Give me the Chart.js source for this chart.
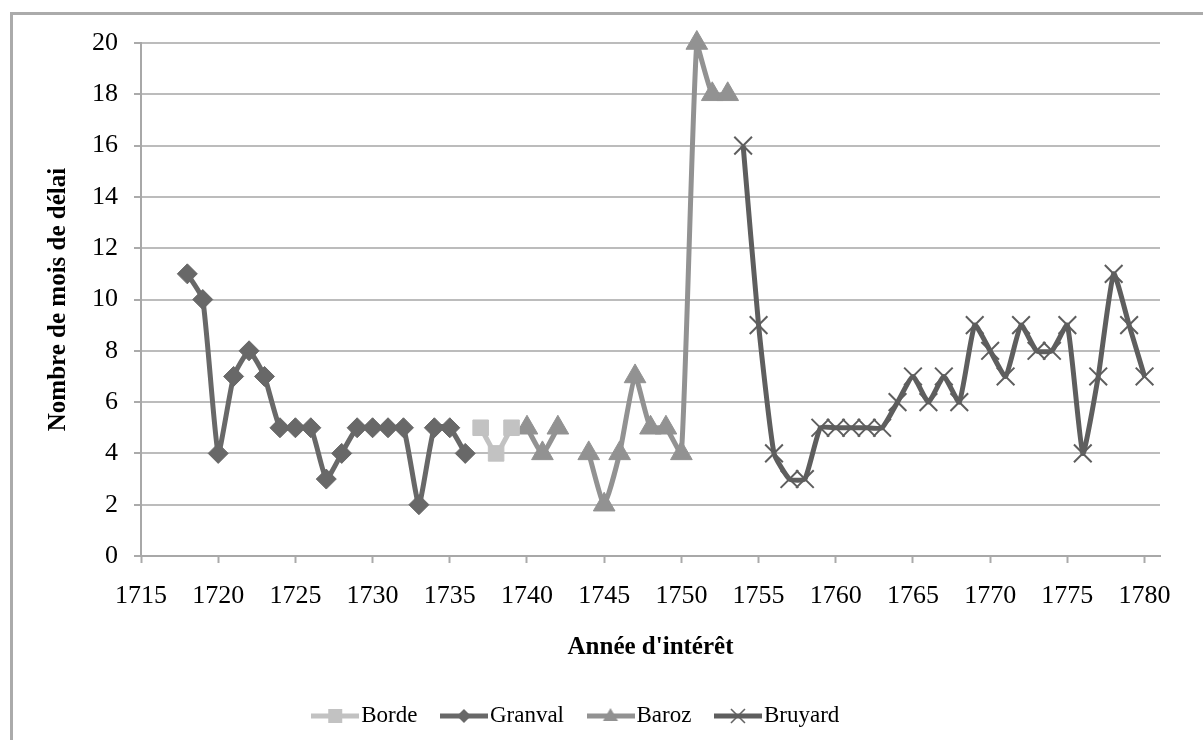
<!DOCTYPE html>
<html><head><meta charset="utf-8">
<script src="https://cdn.jsdelivr.net/npm/chart.js@4/dist/chart.umd.min.js"></script>
<style>html,body{margin:0;padding:0;background:#fff;}#wrap{width:1203px;height:740px;position:relative;}</style>
</head><body><div id="wrap"><canvas id="c" width="1203" height="740"></canvas></div>
<script>
// ---- data ----
const xTickLabels = [1715,1720,1725,1730,1735,1740,1745,1750,1755,1760,1765,1770,1775,1780];
const yTickLabels = [0,2,4,6,8,10,12,14,16,18,20];
const seriesNames = ['Borde','Granval','Baroz','Bruyard'];
const bordeYears = [1737,1738,1739];
const bordeValues = [5,4,5];
const granvalYears = [1718,1719,1720,1721,1722,1723,1724,1725,1726,1727,1728,1729,1730,1731,1732,1733,1734,1735,1736];
const granvalValues = [11,10,4,7,8,7,5,5,5,3,4,5,5,5,5,2,5,5,4];
const barozYears = [1740,1741,1742,1743,1744,1745,1746,1747,1748,1749,1750,1751,1752,1753];
const barozValues = [5,4,5,null,4,2,4,7,5,5,4,20,18,18];
const bruyardYears = [1754,1755,1756,1757,1758,1759,1760,1761,1762,1763,1764,1765,1766,1767,1768,1769,1770,1771,1772,1773,1774,1775,1776,1777,1778,1779,1780];
const bruyardValues = [16,9,4,3,3,5,5,5,5,5,6,7,6,7,6,9,8,7,9,8,8,9,4,7,11,9,7];

const pts = (xs, ys) => xs.map((x, i) => ({x: x, y: ys[i]}));

const FONT = '"Liberation Serif", "Times New Roman", serif';
Chart.defaults.font.family = FONT;
Chart.defaults.color = '#000';

const colors = {borde:'#c2c2c2', granval:'#686868', baroz:'#929292', bruyard:'#5e5e5e'};

function legendImg(color, shape) {
  const c = document.createElement('canvas');
  c.width = 48; c.height = 24;
  const g = c.getContext('2d');
  g.strokeStyle = color; g.fillStyle = color; g.lineWidth = 5;
  g.beginPath(); g.moveTo(0, 12); g.lineTo(48, 12); g.stroke();
  const cx = 24, cy = 12;
  g.beginPath();
  if (shape === 'rect') { g.fillRect(cx - 7, cy - 7, 14, 14); }
  else if (shape === 'rectRot') { g.moveTo(cx - 7, cy); g.lineTo(cx, cy - 7); g.lineTo(cx + 7, cy); g.lineTo(cx, cy + 7); g.closePath(); g.fill(); }
  else if (shape === 'triangle') { g.moveTo(cx, cy - 8); g.lineTo(cx + 7.5, cy + 5); g.lineTo(cx - 7.5, cy + 5); g.closePath(); g.fill(); }
  else if (shape === 'crossRot') { g.lineWidth = 1.5; g.moveTo(cx - 7, cy - 7); g.lineTo(cx + 7, cy + 7); g.moveTo(cx + 7, cy - 7); g.lineTo(cx - 7, cy + 7); g.stroke(); }
  return c;
}
const legendImgs = [
  legendImg(colors.borde, 'rect'),
  legendImg(colors.granval, 'rectRot'),
  legendImg(colors.baroz, 'triangle'),
  legendImg(colors.bruyard, 'crossRot')
];

const frame = {
  id: 'frame',
  beforeDraw(chart) {
    const ctx = chart.ctx;
    ctx.save(); ctx.fillStyle = '#fff'; ctx.fillRect(0, 0, chart.width, chart.height); ctx.restore();
  },
  afterDraw(chart) {
    const ctx = chart.ctx;
    ctx.save(); ctx.strokeStyle = '#ababab'; ctx.lineWidth = 3;
    ctx.strokeRect(11.5, 13.5, 1400, 900); ctx.restore();
  }
};

const common = {borderWidth: 5, tension: 0.15, clip: false, spanGaps: false};

new Chart(document.getElementById('c'), {
  type: 'line',
  data: {
    datasets: [
      Object.assign({label: seriesNames[0], data: pts(bordeYears, bordeValues), borderColor: colors.borde, backgroundColor: colors.borde,
        pointStyle: 'rect', pointRadius: 11, pointBorderWidth: 1}, common),
      Object.assign({label: seriesNames[1], data: pts(granvalYears, granvalValues), borderColor: colors.granval, backgroundColor: colors.granval,
        pointStyle: 'rectRot', pointRadius: 10, pointBorderWidth: 1}, common),
      Object.assign({label: seriesNames[2], data: pts(barozYears, barozValues), borderColor: colors.baroz, backgroundColor: colors.baroz,
        pointStyle: 'triangle', pointRadius: 12.5, pointBorderWidth: 1}, common),
      Object.assign({label: seriesNames[3], data: pts(bruyardYears, bruyardValues), borderColor: colors.bruyard, backgroundColor: colors.bruyard,
        pointStyle: 'crossRot', pointRadius: 12.5, pointBorderWidth: 2}, common)
    ]
  },
  options: {
    responsive: false,
    animation: false,
    devicePixelRatio: 1,
    layout: {padding: {left: 0, top: 43, right: 43, bottom: 2.5}},
    plugins: {
      tooltip: {enabled: false},
      legend: {
        position: 'bottom',
        align: 'center',
        labels: {
          font: {size: 23, family: FONT},
          color: '#000',
          usePointStyle: true,
          pointStyleWidth: 29,
          padding: 32,
          generateLabels(chart) {
            const items = Chart.defaults.plugins.legend.labels.generateLabels(chart);
            items.forEach((it, i) => { it.pointStyle = legendImgs[i]; });
            return items;
          }
        }
      }
    },
    scales: {
      x: {
        type: 'linear',
        min: 1715,
        max: 1781,
        afterBuildTicks(scale) { scale.ticks = xTickLabels.map(v => ({value: v})); },
        afterFit(scale) { scale.height = 116.5; },
        ticks: {font: {size: 26, family: FONT}, color: '#000', padding: 18, maxRotation: 0, autoSkip: false,
          callback: (v) => String(v)},
        grid: {drawOnChartArea: false, drawTicks: true, tickLength: 7, tickColor: '#aaaaaa', tickWidth: 2, color: '#aaaaaa'},
        border: {display: true, color: '#a8a8a8', width: 2},
        title: {display: true, text: "Année d'intérêt", font: {size: 25, weight: 'bold', family: FONT}, color: '#000',
          padding: {top: 4, bottom: 9.5}}
      },
      y: {
        type: 'linear',
        min: 0,
        max: 20,
        afterBuildTicks(scale) { scale.ticks = yTickLabels.map(v => ({value: v})); },
        afterFit(scale) { scale.width = 141; },
        ticks: {font: {size: 26, family: FONT}, color: '#000', padding: 16},
        grid: {color: '#bcbcbc', lineWidth: 2, drawTicks: true, tickLength: 7, tickColor: '#aaaaaa', tickWidth: 2},
        border: {display: true, color: '#a8a8a8', width: 2},
        title: {display: true, text: 'Nombre de mois de délai', font: {size: 25, weight: 'bold', family: FONT}, color: '#000',
          padding: {top: 43.5, bottom: 4}}
      }
    }
  },
  plugins: [frame]
});
</script>
</body></html>
